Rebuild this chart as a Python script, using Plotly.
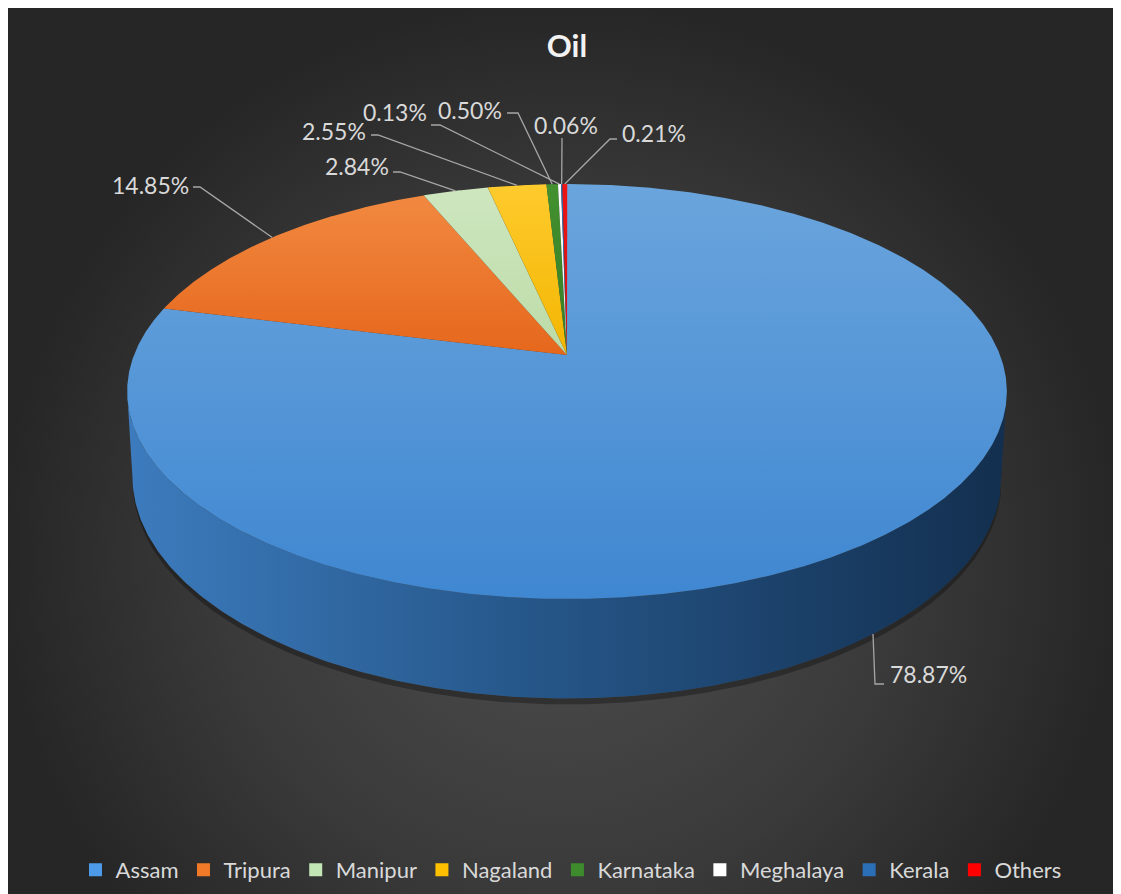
import numpy as np
import plotly.graph_objects as go

# data
states = ["Assam", "Tripura", "Manipur", "Nagaland", "Karnataka", "Meghalaya", "Kerala", "Others"]
share = [78.87, 14.85, 2.84, 2.55, 0.50, 0.13, 0.06, 0.21]

# styling
top_colors = [("#6ba5dd", "#3f87d1"), ("#f38c44", "#e5661b"), ("#cfe7c0", "#bcdba7"),
              ("#ffcb2e", "#f2b500"), ("#43912f", "#367d26"), ("#ffffff", "#f2f2f2"),
              ("#2f72b8", "#2a66a6"), ("#f01414", "#d90f0f")]
grad_stop = [600, 360, 360, 360, 360, 360, 360, 360]
legend_colors = ["#4d9be8", "#f07a28", "#c2e6b5", "#ffc000", "#3d8b2d", "#ffffff", "#2a6fb8", "#ff0000"]
W, H = 1121, 894      # screen size
OFF = 8               # page body margin
FONT = "Lato"

# fake 3d pie geometry (screen pixels)
CX, CY = 567, 355
A, B, K, D = 433, 201, 0.176, 82


def proj(phi, depth=0.0):
    p = np.radians(phi)
    u, v = np.cos(p), np.sin(p)
    w = 1 + K * v
    return CX + A * u / w * (1 - 0.012 * depth), CY - B * v / w + D * depth / w


def arc(a0, a1, depth=0.0, step=0.5):
    n = max(3, int(abs(a1 - a0) / step))
    return proj(np.linspace(a0, a1, n), depth)


# label placement: (text x, text y, xanchor, elbow point, line end, anchor depth)
label_layout = [
    (888, 674, "left", (875, 684), (884, 684), 1),
    (191, 185, "right", (200, 187), (193, 187), 0),
    (391, 166, "right", (400, 172), (393, 172), 0),
    (368, 131, "right", (378, 135), (371, 135), 0),
    (504, 110, "right", (518, 113), (507, 113), 0),
    (429, 112, "right", (440, 125), (431, 125), 0),
    (566, 125, "center", (562, 138), (562, 138), 0),
    (620, 133, "left", (610, 139), (617, 139), 0),
]

fig = go.Figure()

# background
fig.add_trace(go.Scatter(
    x=[0, W, W, 0, 0], y=[0, 0, 1110, 1110, 0], mode="lines", fill="toself",
    line=dict(width=0), hoverinfo="skip", showlegend=False,
    fillgradient=dict(type="radial", colorscale=[[0, "#4e4e4e"], [0.6, "#3a3a3a"], [1, "#262626"]]),
))

# soft shadow under the pie
sx, sy = arc(182, 358, 1)
bx, by = arc(358, 182, 1.03)
fig.add_trace(go.Scatter(
    x=np.concatenate([sx, bx]), y=np.concatenate([sy, by + 3]),
    mode="lines", fill="toself", fillcolor="rgba(0,0,0,0.3)", line=dict(width=0),
    hoverinfo="skip", showlegend=False,
))

# front wall
phi_l = 180 + np.degrees(np.arcsin(K))
phi_r = 360 - np.degrees(np.arcsin(K))
tx, ty = arc(phi_l, phi_r, 0)
bx, by = arc(phi_r, phi_l, 1)
fig.add_trace(go.Scatter(
    x=np.concatenate([tx, bx]), y=np.concatenate([ty, by]), mode="lines", fill="toself",
    line=dict(width=0), hoverinfo="skip", showlegend=False,
    fillgradient=dict(type="horizontal", start=130, stop=1005,
                      colorscale=[[0, "#3c7bbd"], [0.45, "#26578a"], [1, "#132f4f"]]),
))

# top face slices
start = 90.0
mids = []
for name, val, (c0, c1), gs in zip(states, share, top_colors, grad_stop):
    a1 = start - 360 * val / 100
    rx, ry = arc(start, a1, 0, step=0.25)
    fig.add_trace(go.Scatter(
        x=np.concatenate([[CX], rx, [CX]]), y=np.concatenate([[CY], ry, [CY]]),
        mode="lines", fill="toself", line=dict(width=0), name=name,
        hoverinfo="name", showlegend=False,
        fillgradient=dict(type="vertical", start=180, stop=gs,
                          colorscale=[[0, c0], [1, c1]]),
    ))
    mids.append((start + a1) / 2)
    start = a1

# leader lines and labels
for val, mid, (tx_, ty_, xa, elbow, end, dep) in zip(share, mids, label_layout):
    ax, ay = proj(mid, dep)
    fig.add_trace(go.Scatter(
        x=[ax, elbow[0], end[0]], y=[ay, elbow[1], end[1]], mode="lines",
        line=dict(color="#a6a6a6", width=1.3), hoverinfo="skip", showlegend=False,
    ))
    fig.add_annotation(x=tx_, y=ty_, text=f"{val:.2f}%", showarrow=False, xanchor=xa,
                       yanchor="middle", font=dict(family=FONT, size=23, color="#d9d9d9"))

# legend entries
for name, col in zip(states, legend_colors):
    fig.add_trace(go.Scatter(
        x=[None], y=[None], mode="markers", name=name,
        marker=dict(symbol="square", size=13, color=col),
    ))

# the page body has an 8px margin
FW, FH = W - OFF, H - OFF
fig.update_layout(
    width=FW, height=FH,
    margin=dict(l=0, r=0, t=0, b=0),
    paper_bgcolor="white", plot_bgcolor="white",
    title=dict(text="<b>Oil</b>", x=(567 - OFF) / FW, xanchor="center",
               y=1 - (46 - OFF) / FH, yanchor="middle",
               font=dict(family=FONT, size=31, color="#f2f2f2")),
    xaxis=dict(range=[OFF, W], visible=False, fixedrange=True),
    yaxis=dict(range=[H, OFF], visible=False, fixedrange=True),
    legend=dict(orientation="h", x=(571 - OFF) / FW, xanchor="center",
                y=1 - (870 - OFF) / FH, yanchor="middle",
                font=dict(family=FONT, size=22, color="#d9d9d9"), bgcolor="rgba(0,0,0,0)",
                itemwidth=30, traceorder="normal"),
    showlegend=True,
)

fig.write_html("out.html")
